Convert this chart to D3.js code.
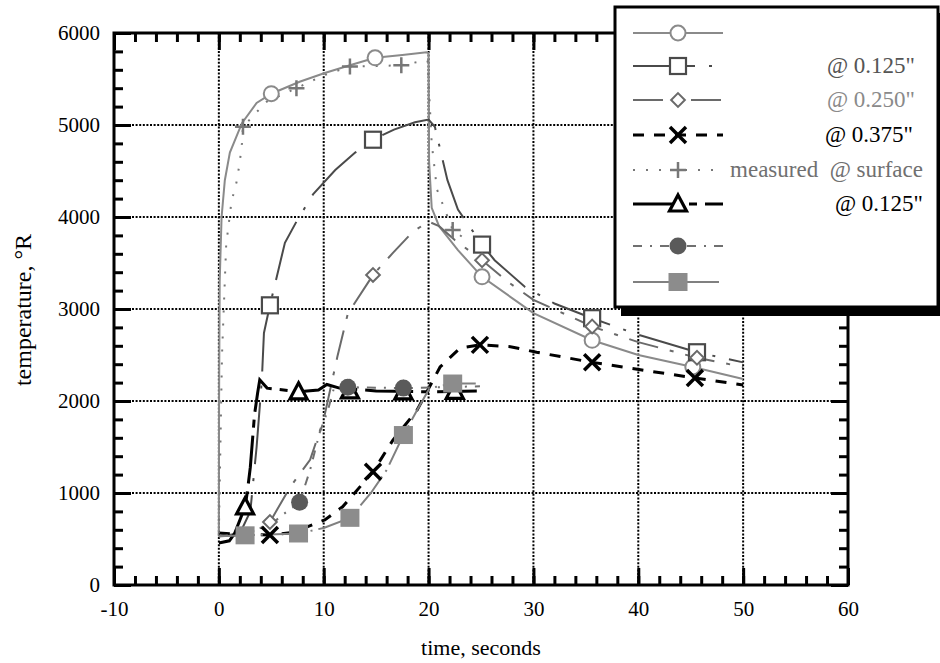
<!DOCTYPE html>
<html>
<head>
<meta charset="utf-8">
<script src="https://cdn.jsdelivr.net/npm/d3@7"></script>
<style>
  body { margin: 0; background: #fff; }
  svg text { font-family: "Liberation Serif", "Times New Roman", serif; white-space: pre; }
</style>
</head>
<body>
<svg id="svg" width="940" height="663"></svg>
<script>
// calculated curves (open markers) and measured curves
var calcSurface = [[0,530],[0.02,2000],[0.08,3300],[0.26,4000],[0.57,4400],[1.05,4700],[2.2,5020],[3.6,5240],[5,5340],[7.7,5470],[10.1,5565],[12.5,5650],[14.9,5730],[17.5,5760],[19.8,5790],[20,5780],[20.05,4600],[20.3,4100],[21,3900],[22.8,3640],[25.1,3350],[30,2955],[35.6,2660],[40,2500],[45.2,2370],[50,2240]];
var calcSurfaceMarks = [[5,5340],[14.9,5730],[25.1,3350],[35.6,2660],[45.2,2370]];

var calc125 = [[0,530],[2,560],[3,800],[3.6,1500],[4.1,2230],[4.3,2740],[4.87,3040],[6.3,3720],[7.4,3950],[9,4250],[11.1,4510],[13,4700],[14.7,4840],[16.7,4950],[18.7,5030],[20,5060],[20.6,4980],[21.8,4400],[22.8,4080],[25.1,3700],[26.3,3530],[29.2,3240],[32,3060],[35.6,2900],[40,2720],[45.6,2530],[50,2420]];
var calc125Marks = [[4.87,3040],[14.7,4840],[25.1,3700],[35.6,2900],[45.6,2530]];

var calc250 = [[0,530],[2,540],[4,620],[4.87,685],[6.8,1065],[8.7,1360],[10,1800],[11.3,2480],[12.3,2950],[14.7,3370],[16.6,3610],[18.5,3840],[20,3950],[21,3900],[22.5,3750],[25.1,3530],[27.5,3300],[30,3100],[35.6,2810],[40,2640],[45.6,2470],[50,2370]];
var calc250Marks = [[4.87,685],[14.7,3370],[25.1,3530],[35.6,2810],[45.6,2470]];

var calc375 = [[0,565],[2,550],[4.87,543],[7,570],[10.1,707],[11.8,850],[14.7,1230],[16.6,1575],[18.9,1900],[21.1,2370],[23,2575],[24.9,2610],[27.8,2590],[30.3,2530],[35.6,2420],[40.2,2340],[45.4,2250],[50,2175]];
var calc375Marks = [[4.87,543],[14.7,1230],[24.9,2610],[35.6,2420],[45.4,2250]];

var measSurface = [[0,560],[0.3,2500],[0.7,3700],[1.2,4165],[1.7,4385],[2.0,4600],[2.2,4800],[2.3,4980],[4.5,5250],[7.4,5400],[10,5540],[12.5,5635],[15,5640],[17.4,5650],[19.2,5690],[19.9,5700],[20.3,4800],[20.8,4300],[22.3,3860],[23.5,3760]];
var measSurfaceMarks = [[2.3,4980],[7.4,5400],[12.5,5635],[17.4,5650],[22.3,3860]];

var meas125 = [[0,456],[1,480],[1.5,560],[2.5,850],[2.7,1000],[3.0,1280],[3.4,1850],[3.7,2090],[3.9,2230],[4.6,2140],[7.6,2100],[9.5,2120],[10.3,2180],[11.5,2140],[15,2110],[20,2100],[24.6,2110]];
var meas125Marks = [[2.5,850],[7.6,2100],[12.5,2110],[17.6,2100],[22.5,2105]];

var meas250 = [[0,530],[2.5,560],[4.87,650],[6.5,800],[7.7,900],[8.7,1250],[9.6,1650],[10.4,1900],[11,2150],[12.3,2150],[17.6,2140],[24.9,2160]];
var meas250Marks = [[7.7,900],[12.3,2150],[17.6,2140]];

var meas375 = [[0,530],[2.5,540],[7.6,560],[10,620],[12.5,730],[14.5,1000],[16,1250],[17.6,1630],[18.9,1900],[20.1,2140],[22.3,2190],[24.5,2190]];
var meas375Marks = [[2.5,540],[7.6,560],[12.5,730],[17.6,1630],[22.3,2190]];

var legendLabels = ["", "@ 0.125\"", "@ 0.250\"", "@ 0.375\"", "measured  @ surface", "@ 0.125\"", "", ""];
var xTicks = [-10, 0, 10, 20, 30, 40, 50, 60];
var yTicks = [0, 1000, 2000, 3000, 4000, 5000, 6000];

var series = [
  {data: calcSurface, marks: calcSurfaceMarks, color: "#8a8a8a", width: 2, dash: null, marker: "circle"},
  {data: calc125, marks: calc125Marks, color: "#4a4a4a", width: 2, dash: "62,14,3,14", marker: "square"},
  {data: calc250, marks: calc250Marks, color: "#6a6a6a", width: 2, dash: "30,12,4,12", marker: "diamond"},
  {data: calc375, marks: calc375Marks, color: "#000", width: 3, dash: "11,10", marker: "x"},
  {data: measSurface, marks: measSurfaceMarks, color: "#777", width: 2, dash: "2,11", marker: "plus"},
  {data: meas125, marks: meas125Marks, color: "#000", width: 3, dash: "48,8,8,8", marker: "triangle"},
  {data: meas250, marks: meas250Marks, color: "#707070", width: 2, dash: "9,8,2,8", marker: "dot"},
  {data: meas375, marks: meas375Marks, color: "#808080", width: 2, dash: "36,6,2,6", marker: "block"}
];

var svg = d3.select("#svg");
var x = d3.scaleLinear().domain([-10, 60]).range([114, 848]);
var y = d3.scaleLinear().domain([0, 6000]).range([585, 33]);

// dotted grid
var grid = svg.append("g").attr("stroke", "#000").attr("stroke-width", 2).attr("stroke-dasharray", "2,1.6");
grid.selectAll("line.gx").data(xTicks.slice(1, -1)).enter().append("line")
  .attr("x1", d => x(d)).attr("x2", d => x(d)).attr("y1", y(6000)).attr("y2", y(0));
grid.selectAll("line.gy").data(yTicks.slice(1, -1)).enter().append("line")
  .attr("x1", x(-10)).attr("x2", x(60)).attr("y1", d => y(d)).attr("y2", d => y(d));

// curves
var line = d3.line().x(d => x(d[0])).y(d => y(d[1]));
var curves = svg.append("g").attr("fill", "none");
series.forEach(function (s) {
  curves.append("path").datum(s.data).attr("d", line)
    .attr("stroke", s.color).attr("stroke-width", s.width)
    .attr("stroke-dasharray", s.dash);
});

function drawMarker(g, type, cx, cy, color) {
  if (type == "circle") {
    g.append("circle").attr("cx", cx).attr("cy", cy).attr("r", 7.5)
      .attr("fill", "#fff").attr("stroke", color).attr("stroke-width", 2);
  } else if (type == "square") {
    g.append("rect").attr("x", cx - 8).attr("y", cy - 8).attr("width", 16).attr("height", 16)
      .attr("fill", "#fff").attr("stroke", color).attr("stroke-width", 2.2);
  } else if (type == "diamond") {
    g.append("path").attr("d", d3.symbol(d3.symbolDiamond2, 120)())
      .attr("transform", "translate(" + cx + "," + cy + ")")
      .attr("fill", "#fff").attr("stroke", color).attr("stroke-width", 2);
  } else if (type == "x") {
    g.append("path").attr("d", "M-8,-8L8,8M-8,8L8,-8")
      .attr("transform", "translate(" + cx + "," + cy + ")")
      .attr("stroke", "#000").attr("stroke-width", 3.5);
  } else if (type == "plus") {
    g.append("path").attr("d", "M-8,0L8,0M0,-8L0,8")
      .attr("transform", "translate(" + cx + "," + cy + ")")
      .attr("stroke", color).attr("stroke-width", 2.5);
  } else if (type == "triangle") {
    g.append("path").attr("d", "M0,-9L8.5,7L-8.5,7Z")
      .attr("transform", "translate(" + cx + "," + cy + ")")
      .attr("fill", "#fff").attr("stroke", "#000").attr("stroke-width", 3.2);
  } else if (type == "dot") {
    g.append("circle").attr("cx", cx).attr("cy", cy).attr("r", 8.5)
      .attr("fill", "#5a5a5a");
  } else if (type == "block") {
    g.append("rect").attr("x", cx - 9.5).attr("y", cy - 9).attr("width", 19).attr("height", 18)
      .attr("fill", "#8c8c8c");
  }
}

var marks = svg.append("g");
series.forEach(function (s) {
  s.marks.forEach(function (p) { drawMarker(marks, s.marker, x(p[0]), y(p[1]), s.color); });
});

// axes: major and minor ticks on all four sides, pointing inward
function ticks(axis, size, values) {
  return axis.tickValues(values).tickSize(size);
}
var plain = d => String(d);
var xMinor = d3.range(-10, 61, 2), yMinor = d3.range(0, 6001, 200);
var axStyle = function (g) {
  g.attr("font-family", null).attr("font-size", null);
  g.select(".domain").remove();
  g.selectAll(".tick line").attr("stroke", "#000").attr("stroke-width", 3);
  g.selectAll(".tick text").attr("fill", "#000")
    .style("font-family", "'Liberation Serif', 'Times New Roman', serif").style("font-size", "21px");
};
svg.append("g").attr("transform", "translate(0,585)")
  .call(ticks(d3.axisBottom(x), -9, xMinor).tickFormat("")).call(axStyle);
svg.append("g").attr("transform", "translate(0,585)")
  .call(ticks(d3.axisBottom(x), -17, xTicks).tickPadding(16).tickFormat(plain)).call(axStyle);
svg.append("g").attr("transform", "translate(0,33)")
  .call(ticks(d3.axisTop(x), -9, xMinor).tickFormat("")).call(axStyle);
svg.append("g").attr("transform", "translate(0,33)")
  .call(ticks(d3.axisTop(x), -17, xTicks).tickFormat("")).call(axStyle);
svg.append("g").attr("transform", "translate(114,0)")
  .call(ticks(d3.axisLeft(y), -9, yMinor).tickFormat("")).call(axStyle);
svg.append("g").attr("transform", "translate(114,0)")
  .call(ticks(d3.axisLeft(y), -17, yTicks).tickPadding(14).tickFormat(plain)).call(axStyle);
svg.append("g").attr("transform", "translate(848,0)")
  .call(ticks(d3.axisRight(y), -9, yMinor).tickFormat("")).call(axStyle);
svg.append("g").attr("transform", "translate(848,0)")
  .call(ticks(d3.axisRight(y), -17, yTicks).tickFormat("")).call(axStyle);

svg.append("rect").attr("x", 114).attr("y", 33).attr("width", 734).attr("height", 552)
  .attr("fill", "none").attr("stroke", "#000").attr("stroke-width", 3);

// axis titles
svg.append("text").attr("x", 481).attr("y", 655).attr("text-anchor", "middle")
  .attr("font-size", 22).text("time, seconds");
svg.append("text").attr("transform", "translate(31,310) rotate(-90)").attr("text-anchor", "middle")
  .attr("font-size", 24).text("temperature, \u00b0R");

// legend box with drop shadow
var lg = svg.append("g");
lg.append("rect").attr("x", 621).attr("y", 13).attr("width", 330).attr("height", 303).attr("fill", "#000");
lg.append("rect").attr("x", 615).attr("y", 7).attr("width", 323).attr("height", 300)
  .attr("fill", "#fff").attr("stroke", "#000").attr("stroke-width", 3);
var rowY = [33, 66, 100, 135, 170, 204, 246, 282];
var labelColor = ["#000", "#555", "#8a8a8a", "#000", "#707070", "#000", "#000", "#000"];
var labelEnd = [915, 915, 915, 913, 923, 923, 915, 915];
series.forEach(function (s, i) {
  lg.append("line").attr("x1", 633).attr("x2", 723).attr("y1", rowY[i]).attr("y2", rowY[i])
    .attr("stroke", s.color).attr("stroke-width", s.width).attr("stroke-dasharray", s.dash);
  drawMarker(lg, s.marker, 678, rowY[i], s.color);
  if (legendLabels[i]) {
    lg.append("text").attr("x", labelEnd[i]).attr("y", rowY[i] + 7).attr("text-anchor", "end")
      .attr("font-size", 23).attr("fill", labelColor[i]).text(legendLabels[i]);
  }
});
</script>
</body>
</html>
